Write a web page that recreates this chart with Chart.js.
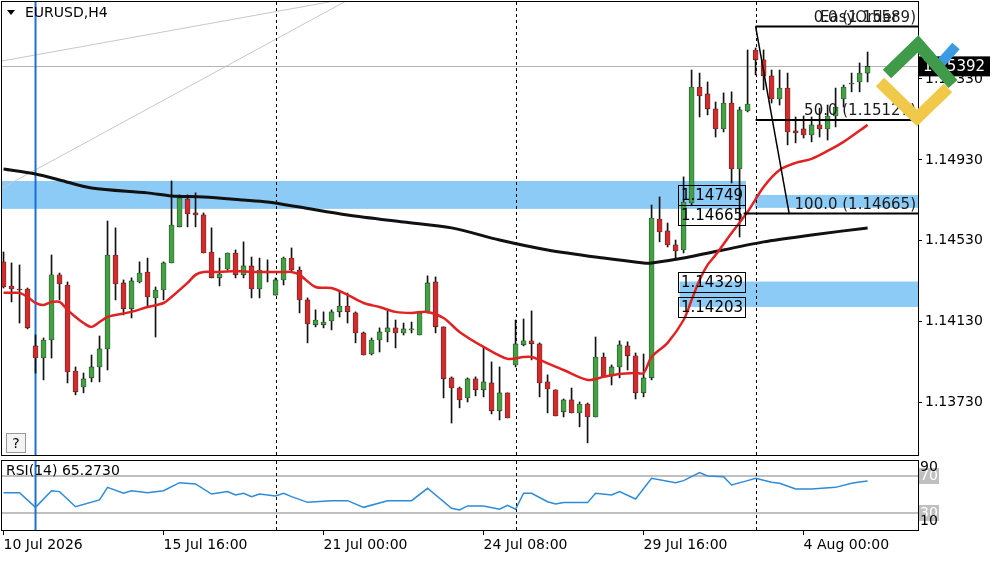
<!DOCTYPE html>
<html>
<head>
<meta charset="utf-8">
<script src="https://cdn.jsdelivr.net/npm/chart.js@4.4.1/dist/chart.umd.min.js"></script>
<style>
body { margin: 0; background: #fff; }
canvas { position: absolute; left: 0; }
#main { top: 0; }
#rsi { top: 458px; }
</style>
</head>
<body>
<canvas id="main" width="1000" height="458"></canvas>
<canvas id="rsi" width="1000" height="104"></canvas>
<script>
const open = [1.14426,1.14307,1.14292,1.14292,1.14011,1.13951,1.14040,1.14362,1.14312,1.13887,
1.13808,1.13853,1.13907,1.13996,1.14460,1.14322,1.14194,1.14327,1.14376,1.14248,
1.14287,1.14421,1.14599,1.14737,1.14668,1.14658,1.14475,1.14347,1.14391,1.14470,
1.14362,1.14406,1.14292,1.14381,1.14262,1.14337,1.14445,1.14386,1.14238,1.14115,
1.14115,1.14134,1.14179,1.14208,1.14174,1.14075,1.13971,1.14040,1.14080,1.14100,
1.14075,1.14090,1.14065,1.14174,1.14327,1.14105,1.13853,1.13803,1.13754,1.13848,
1.13794,1.13828,1.13690,1.13779,1.13917,1.14016,1.14036,1.14021,1.13833,1.13794,
1.13685,1.13744,1.13680,1.13724,1.13660,1.13956,1.13863,1.13907,1.14011,1.13962,
1.13779,1.13853,1.14638,1.14579,1.14510,1.14485,1.14717,1.15290,1.15256,1.15182,
1.15083,1.15211,1.14885,1.15172,1.15473,1.15424,1.15345,1.15231,1.15285,1.15073,
1.15083,1.15053,1.15103,1.15083,1.15147,1.15231,1.15305,1.15315,1.15359]
const high = [1.14475,1.14421,1.14411,1.14297,1.14065,1.14050,1.14460,1.14371,1.14327,1.13907,
1.13877,1.13966,1.14060,1.14628,1.14594,1.14337,1.14347,1.14426,1.14445,1.14302,
1.14426,1.14826,1.14757,1.14757,1.14767,1.14668,1.14594,1.14445,1.14470,1.14485,
1.14525,1.14450,1.14445,1.14436,1.14347,1.14450,1.14495,1.14401,1.14248,1.14189,
1.14179,1.14189,1.14277,1.14272,1.14179,1.14080,1.14050,1.14100,1.14189,1.14139,
1.14124,1.14129,1.14179,1.14357,1.14352,1.14105,1.13858,1.13808,1.13853,1.13858,
1.14006,1.13932,1.13907,1.13779,1.14139,1.14144,1.14184,1.14026,1.13868,1.13794,
1.13749,1.13803,1.13734,1.13729,1.14055,1.13976,1.13917,1.14036,1.14031,1.13976,
1.13971,1.14707,1.14747,1.14618,1.14534,1.14846,1.15374,1.15359,1.15315,1.15216,
1.15261,1.15266,1.15191,1.15473,1.15483,1.15473,1.15374,1.15374,1.15359,1.15142,
1.15147,1.15142,1.15186,1.15201,1.15285,1.15300,1.15359,1.15409,1.15463]
const low = [1.14297,1.14228,1.14124,1.14095,1.13877,1.13843,1.13951,1.14238,1.13828,1.13769,
1.13779,1.13833,1.13833,1.13892,1.14238,1.14164,1.14149,1.14322,1.14203,1.14055,
1.14238,1.14421,1.14599,1.14599,1.14599,1.14470,1.14347,1.14307,1.14386,1.14347,
1.14347,1.14248,1.14248,1.14327,1.14262,1.14312,1.14376,1.14174,1.14026,1.14105,
1.14100,1.14090,1.14154,1.14124,1.14026,1.13966,1.13966,1.13981,1.14031,1.14001,
1.14065,1.14075,1.14065,1.14174,1.14075,1.13754,1.13630,1.13705,1.13734,1.13764,
1.13759,1.13675,1.13645,1.13655,1.13907,1.14011,1.13942,1.13759,1.13680,1.13665,
1.13660,1.13680,1.13611,1.13532,1.13660,1.13858,1.13818,1.13853,1.13892,1.13749,
1.13759,1.13843,1.14525,1.14500,1.14436,1.14470,1.14707,1.15142,1.15152,1.15043,
1.15068,1.14816,1.14549,1.15167,1.15350,1.15276,1.15211,1.15201,1.15004,1.15014,
1.15038,1.15019,1.15043,1.15028,1.15093,1.15191,1.15266,1.15266,1.15315]
const close = [1.14302,1.14292,1.14287,1.14100,1.13951,1.14040,1.14362,1.14317,1.13882,1.13784,
1.13848,1.13907,1.13996,1.14460,1.14317,1.14194,1.14332,1.14371,1.14253,1.14287,
1.14421,1.14608,1.14742,1.14663,1.14658,1.14470,1.14347,1.14366,1.14470,1.14362,
1.14406,1.14292,1.14386,1.14371,1.14337,1.14445,1.14386,1.14238,1.14119,1.14139,
1.14129,1.14179,1.14208,1.14179,1.14075,1.13966,1.14040,1.14080,1.14100,1.14075,
1.14095,1.14092,1.14174,1.14322,1.14105,1.13848,1.13803,1.13744,1.13848,1.13794,
1.13833,1.13690,1.13779,1.13655,1.14021,1.14036,1.14021,1.13828,1.13798,1.13665,
1.13744,1.13680,1.13724,1.13660,1.13956,1.13858,1.13907,1.14016,1.13962,1.13779,
1.13853,1.14643,1.14574,1.14510,1.14480,1.14722,1.15290,1.15246,1.15182,1.15083,
1.15211,1.14885,1.15177,1.15206,1.15424,1.15345,1.15231,1.15285,1.15068,1.15063,
1.15053,1.15103,1.15083,1.15147,1.15191,1.15290,1.15310,1.15359,1.15392]

// moving averages: [bar index, price]
const maFast = [[0,1.14273],[1,1.14273],[2,1.14273],[3,1.14253],[4,1.14223],[5,1.14213],[6,1.14228],[7,1.14228],
[8,1.14189],[9,1.14154],[10,1.14124],[11,1.14105],[12,1.14129],[13,1.14154],[14,1.14164],[16,1.14179],[18,1.14203],
[20,1.14223],[21,1.14253],[23,1.14322],[24,1.14362],[25,1.14376],[27,1.14376],[29,1.14381],[31,1.14376],[33,1.14376],
[35,1.14376],[36,1.14376],[37,1.14362],[39,1.14302],[41,1.14297],[43,1.14263],[45,1.14223],[47,1.14203],[49,1.14179],
[51,1.14174],[53,1.14179],[55,1.14149],[57,1.14080],[60,1.14006],[63,1.13947],[65,1.13956],[66,1.13956],[67,1.13942],
[70,1.13892],[73,1.13843],[75,1.13858],[77,1.13872],[79,1.13877],[80,1.13877],[81,1.13956],[83,1.14026],[85,1.14139],
[86,1.14238],[87,1.14337],[88,1.14411],[89,1.14460],[91,1.14569],[93,1.14673],[95,1.14796],[97,1.14880],[99,1.14915],
[101,1.14935],[103,1.14974],[105,1.15019],[108,1.15103]]
const maSlow = [[0,1.14885],[4,1.14860],[7,1.14831],[11,1.14791],[18,1.14767],[21,1.14752],[25,1.14747],[30,1.14732],
[33,1.14722],[37,1.14697],[43,1.14658],[50,1.14623],[56,1.14594],[62,1.14534],[68,1.14485],[75,1.14445],[80,1.14421],
[81,1.14421],[85,1.14445],[95,1.14525],[101,1.14559],[108,1.14594]]
const rsi = [[0,52.0],[2,52.0],[4,36.1],[6,54.1],[7,53.1],[9,36.8],[12,44.1],[13,57.7],[15,51.3],[16,54.1],[18,52.0],
[20,54.1],[22,62.8],[24,61.4],[26,50.5],[28,53.1],[29,49.5],[30,51.3],[31,47.7],[32,50.5],[34,48.4],[35,51.3],[36,47.7],
[38,41.5],[41,43.3],[43,43.3],[45,36.1],[48,43.3],[51,43.3],[53,56.7],[56,35.0],[57,33.2],[58,37.6],[60,37.6],[62,34.0],
[63,38.3],[64,34.0],[65,51.3],[66,51.3],[68,42.2],[69,39.7],[70,41.2],[73,41.2],[74,51.3],[76,49.5],[77,53.1],[79,45.1],
[81,67.5],[84,62.8],[85,65.0],[87,73.6],[88,70.0],[90,69.3],[91,60.3],[93,65.0],[94,67.5],[96,63.2],[97,62.1],[99,56.0],
[101,56.0],[104,57.7],[106,62.1],[107,63.5],[108,64.6]]
const rsiLast = '65.2730'

const priceTicks = [1.15330, 1.14930, 1.14530, 1.14130, 1.13730]
const timeTicks = ['10 Jul 2026', '15 Jul 16:00', '21 Jul 00:00', '24 Jul 08:00', '29 Jul 16:00', '4 Aug 00:00']
const dashedBars = [34, 64, 94]
const markerBar = 4

const font = 'DejaVu Sans'
const green = '#41a241'
const red = '#d42a2a'
const idx = open.map((v, i) => i)

const xAxis = { type: 'linear', min: -0.19, max: 114.3, offset: false }

function vlines(chart) {
  const c = chart.ctx, a = chart.chartArea, x = chart.scales.x
  c.save()
  c.strokeStyle = '#000'; c.lineWidth = 1; c.setLineDash([3, 3])
  dashedBars.forEach(b => {
    const px = Math.round(x.getPixelForValue(b)) + 0.5
    c.beginPath(); c.moveTo(px, a.top); c.lineTo(px, a.bottom); c.stroke()
  })
  c.setLineDash([])
  c.strokeStyle = '#1e6fd0'; c.lineWidth = 2
  const bx = x.getPixelForValue(markerBar)
  c.beginPath(); c.moveTo(bx, a.top); c.lineTo(bx, a.bottom); c.stroke()
  c.restore()
}

const mainDecor = {
  id: 'mainDecor',
  beforeDatasetsDraw(chart) {
    const c = chart.ctx, a = chart.chartArea, x = chart.scales.x, y = chart.scales.y
    c.save()
    c.beginPath(); c.rect(a.left, a.top, a.width, a.height); c.clip()
    c.fillStyle = '#8ccbf5'
    c.fillRect(a.left, y.getPixelForValue(1.14826), x.getPixelForValue(92.8) - a.left, y.getPixelForValue(1.14688) - y.getPixelForValue(1.14826))
    c.fillRect(x.getPixelForValue(93.9), y.getPixelForValue(1.14757), a.right, y.getPixelForValue(1.14693) - y.getPixelForValue(1.14757))
    c.fillRect(x.getPixelForValue(84.5), y.getPixelForValue(1.14329), a.right, y.getPixelForValue(1.14203) - y.getPixelForValue(1.14329))
    c.strokeStyle = '#c8c8c8'; c.lineWidth = 1
    c.beginPath(); c.moveTo(a.left, 61); c.lineTo(340, 0); c.stroke()
    c.beginPath(); c.moveTo(a.left, 188); c.lineTo(348, 0); c.stroke()
    const by = Math.round(y.getPixelForValue(close[close.length - 1])) + 0.5
    c.strokeStyle = '#b4b4b4'
    c.beginPath(); c.moveTo(a.left, by); c.lineTo(a.right, by); c.stroke()
    c.restore()
    vlines(chart)
  },
  afterDatasetsDraw(chart) {
    const c = chart.ctx, a = chart.chartArea, x = chart.scales.x, y = chart.scales.y
    c.save()
    const fx = x.getPixelForValue(94)
    const y0 = y.getPixelForValue(1.15589), y50 = y.getPixelForValue(1.15127), y100 = y.getPixelForValue(1.14665)
    c.strokeStyle = '#000'; c.lineWidth = 2
    c.beginPath(); c.moveTo(fx, y0); c.lineTo(a.right, y0); c.stroke()
    c.beginPath(); c.moveTo(fx, y50); c.lineTo(a.right, y50); c.stroke()
    c.beginPath(); c.moveTo(x.getPixelForValue(92.5), y100); c.lineTo(a.right, y100); c.stroke()
    c.lineWidth = 1.5
    c.beginPath(); c.moveTo(fx, y0); c.lineTo(x.getPixelForValue(98.2), y100); c.stroke()
    c.font = '15px "' + font + '"'; c.fillStyle = '#1a1a1a'; c.textAlign = 'right'; c.textBaseline = 'bottom'
    c.fillText('50.0 (1.15127)', a.right - 2, y50 - 1)
    c.fillText('100.0 (1.14665)', a.right - 2, y100 - 1)
    c.fillText('EasyOrder', a.right - 20, y0 - 1)
    c.fillText('0.0 (1.15589)', a.right - 2, y0 - 1)
    const bl = x.getPixelForValue(84.3), bw = 67
    c.lineWidth = 1; c.textAlign = 'left'; c.textBaseline = 'middle'; c.fillStyle = '#000'
    ;[[1.14749, 185], [1.14665, 205], [1.14329, 272], [1.14203, 297]].forEach(([v, t]) => {
      c.strokeRect(Math.round(bl) + 0.5, t + 0.5, bw, 20)
      c.fillText(v.toFixed(5), bl + 3, t + 11)
    })
    c.restore()
  },
  afterDraw(chart) {
    const c = chart.ctx, a = chart.chartArea, y = chart.scales.y
    c.save()
    c.strokeStyle = '#000'; c.lineWidth = 1
    c.strokeRect(a.left - 0.5, a.top - 0.5, a.width + 1, a.height + 1)
    const py = y.getPixelForValue(close[close.length - 1])
    c.fillStyle = '#000'; c.fillRect(a.right, py - 10, 72, 20)
    c.fillStyle = '#fff'; c.font = '15px "' + font + '"'; c.textBaseline = 'middle'; c.textAlign = 'left'
    c.fillText(close[close.length - 1].toFixed(5), a.right + 5, py + 1)
    c.lineCap = 'butt'; c.lineJoin = 'miter'
    c.strokeStyle = '#f0c94a'; c.lineWidth = 12
    c.beginPath(); c.moveTo(880, 82); c.lineTo(917, 118); c.lineTo(948, 88); c.stroke()
    c.strokeStyle = '#3b9be0'; c.lineWidth = 10
    c.beginPath(); c.moveTo(938, 66); c.lineTo(956, 46); c.stroke()
    c.strokeStyle = '#3f9a4a'; c.lineWidth = 12
    c.beginPath(); c.moveTo(887, 74); c.lineTo(918, 44); c.lineTo(953, 84); c.stroke()
    c.restore()
    c.save()
    c.fillStyle = '#000'; c.font = '14px "' + font + '"'; c.textAlign = 'left'; c.textBaseline = 'middle'
    c.beginPath(); c.moveTo(7, 10); c.lineTo(15, 10); c.lineTo(11, 15); c.closePath(); c.fill()
    c.fillText('EURUSD,H4', 25, 13)
    c.fillStyle = '#f4f4f4'; c.fillRect(7, 434, 18, 18)
    c.strokeStyle = '#999'; c.lineWidth = 1; c.strokeRect(6.5, 433.5, 19, 19)
    c.fillStyle = '#000'; c.textAlign = 'center'; c.fillText('?', 16, 444)
    c.restore()
  }
}

new Chart(document.getElementById('main'), {
  type: 'bar',
  data: {
    datasets: [
      { type: 'line', data: maFast.map(([i, v]) => ({ x: i, y: v })), borderColor: '#e02222', borderWidth: 2.5, pointRadius: 0, tension: 0.3, order: 1 },
      { type: 'line', data: maSlow.map(([i, v]) => ({ x: i, y: v })), borderColor: '#111', borderWidth: 3, pointRadius: 0, tension: 0.3, order: 2 },
      { data: idx.map(i => ({ x: i, y: [open[i], close[i]] })), grouped: false, barThickness: 5, minBarLength: 1,
        backgroundColor: idx.map(i => close[i] >= open[i] ? green : red), borderColor: '#222', borderWidth: 0.6, borderSkipped: false, order: 3 },
      { data: idx.map(i => ({ x: i, y: [low[i], high[i]] })), grouped: false, barThickness: 1, backgroundColor: '#111', order: 4 }
    ]
  },
  options: {
    animation: false, responsive: false,
    layout: { autoPadding: false, padding: { left: 2, top: 2, bottom: 3, right: 0 } },
    plugins: { legend: { display: false }, tooltip: { enabled: false } },
    scales: {
      x: { ...xAxis, display: false },
      y: {
        position: 'right', min: 1.13472, max: 1.15710,
        afterFit(s) { s.width = 82; s.paddingTop = 0; s.paddingBottom = 0 },
        afterBuildTicks(s) { s.ticks = priceTicks.map(v => ({ value: v })) },
        ticks: { callback: v => v.toFixed(5), color: '#000', font: { family: font, size: 14 }, padding: 3 },
        grid: { drawOnChartArea: false, tickLength: 4, color: '#000' },
        border: { display: false }
      }
    }
  },
  plugins: [mainDecor]
})

const rsiDecor = {
  id: 'rsiDecor',
  beforeDatasetsDraw(chart) {
    const c = chart.ctx, a = chart.chartArea, y = chart.scales.y
    c.save()
    c.strokeStyle = '#c0c0c0'; c.lineWidth = 2
    ;[70, 30].forEach(v => {
      const py = y.getPixelForValue(v)
      c.beginPath(); c.moveTo(a.left, py); c.lineTo(a.right, py); c.stroke()
    })
    c.restore()
    vlines(chart)
  },
  afterDraw(chart) {
    const c = chart.ctx, a = chart.chartArea, y = chart.scales.y
    c.save()
    c.strokeStyle = '#000'; c.lineWidth = 1
    c.strokeRect(a.left - 0.5, a.top - 0.5, a.width + 1, a.height + 1)
    c.font = '14px "' + font + '"'; c.textBaseline = 'middle'; c.textAlign = 'left'
    c.fillStyle = '#000'; c.fillText('RSI(14) ' + rsiLast, 6, a.top + 10)
    ;[70, 30].forEach(v => {
      const py = y.getPixelForValue(v)
      c.fillStyle = '#c0c0c0'; c.fillRect(a.right + 1, py - 8, 20, 16)
      c.fillStyle = '#fff'; c.fillText(String(v), a.right + 2, py)
    })
    c.fillStyle = '#000'
    c.fillText('90', a.right + 2, a.top + 6)
    c.fillText('10', a.right + 2, a.bottom - 9)
    c.restore()
  }
}

new Chart(document.getElementById('rsi'), {
  type: 'line',
  data: {
    datasets: [{ data: rsi.map(([i, v]) => ({ x: i, y: v })), borderColor: '#2d8bd8', borderWidth: 1.5, pointRadius: 0, spanGaps: true }]
  },
  options: {
    animation: false, responsive: false,
    layout: { autoPadding: false, padding: { left: 2, top: 3, bottom: 0, right: 0 } },
    plugins: { legend: { display: false }, tooltip: { enabled: false } },
    scales: {
      x: {
        ...xAxis, position: 'bottom',
        afterFit(s) { s.height = 32 },
        afterBuildTicks(s) { s.ticks = timeTicks.map((t, k) => ({ value: k * 20 })) },
        ticks: { callback: v => timeTicks[v / 20], align: 'start', maxRotation: 0, autoSkip: false, color: '#000', font: { family: font, size: 14 }, padding: 2 },
        grid: { drawOnChartArea: false, tickLength: 5, color: '#000' },
        border: { display: false }
      },
      y: {
        position: 'right', min: 11.6, max: 86.2,
        afterFit(s) { s.width = 82 },
        ticks: { display: false }, grid: { display: false }, border: { display: false }
      }
    }
  },
  plugins: [rsiDecor]
})
</script>
</body>
</html>
